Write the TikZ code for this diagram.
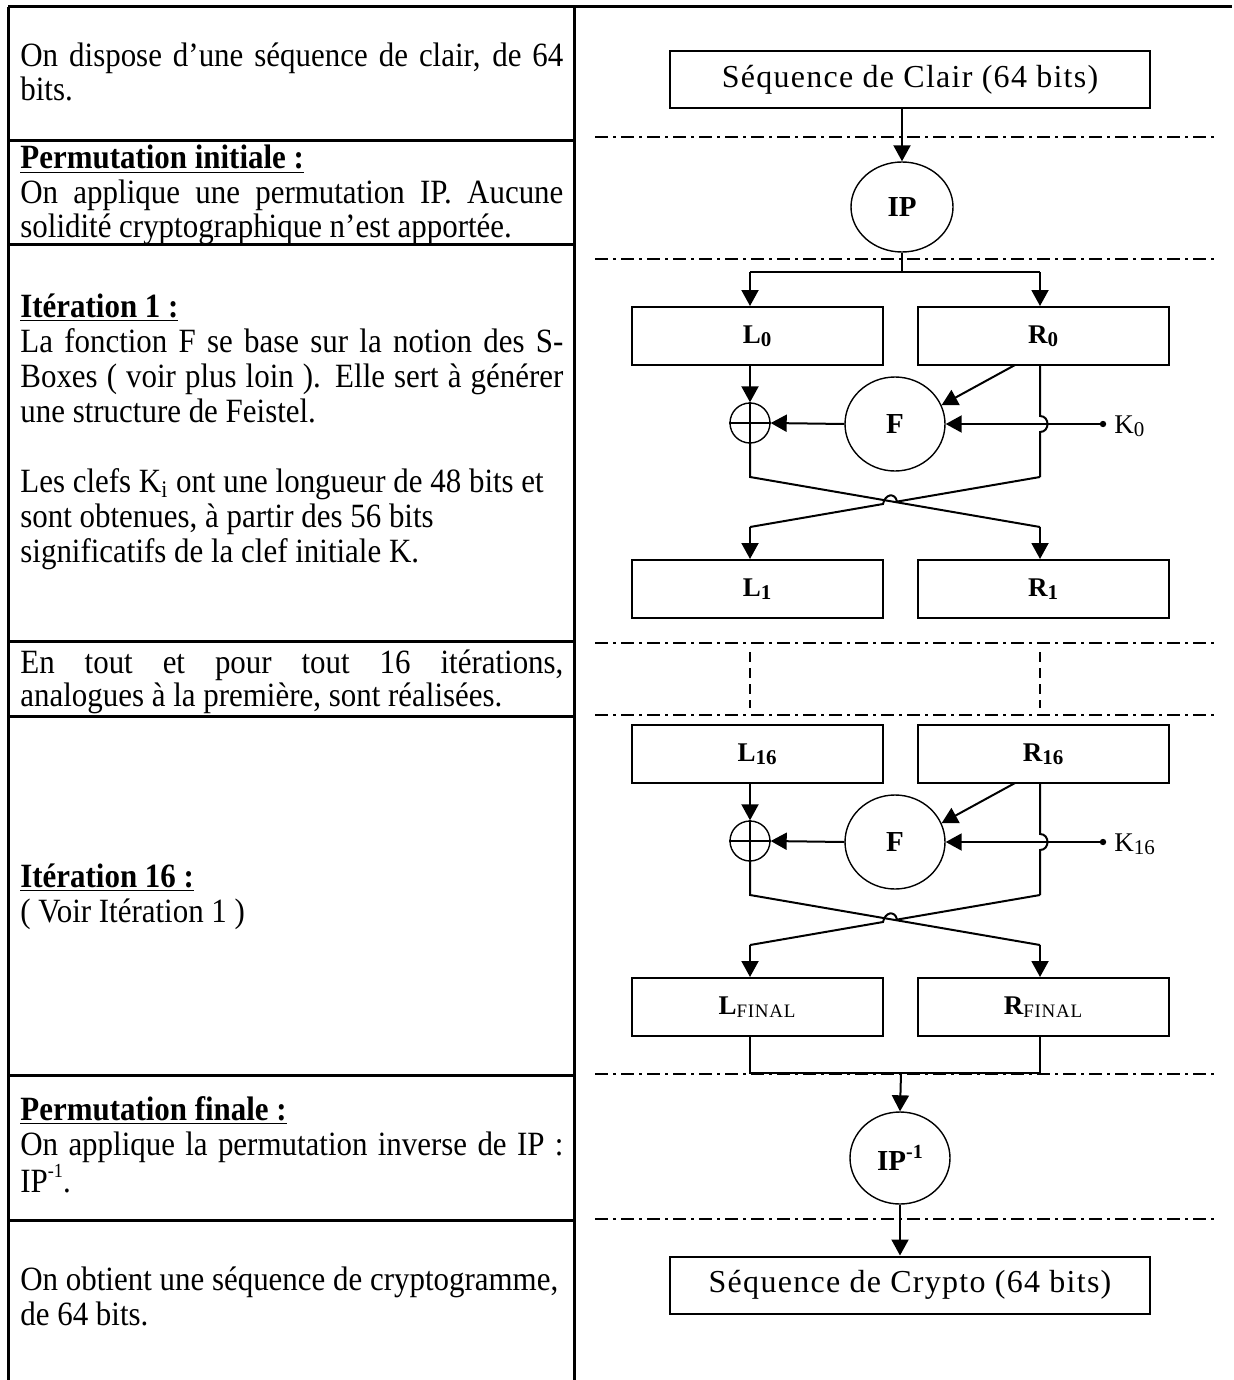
\documentclass[tikz,border=0pt]{standalone}
\usepackage{fontspec}
\setmainfont{Liberation Serif}[FakeStretch=0.91]
\newfontfamily\diafont[LetterSpace=4]{Liberation Serif}
\newfontfamily\labfont{Liberation Serif}
\usetikzlibrary{arrows.meta,shapes.geometric}
\newcommand{\jl}[1]{\makebox[271.5pt][s]{#1}}
\newcommand{\lsub}[1]{\raisebox{-0.28ex}{\fontsize{10.5}{11}\selectfont #1}}
\newcommand{\lsup}[1]{\raisebox{0.9ex}{\fontsize{10}{10}\selectfont #1}}
\tikzset{
  rule/.style={line width=1.5pt},
  sepline/.style={line width=0.9pt, dash pattern=on 6.5pt off 2.5pt on 1.5pt off 2.5pt},
  wire/.style={line width=1pt},
  arr/.style={wire, -{Triangle[length=8pt,width=8.5pt]}},
  blk/.style={draw, line width=1pt, minimum width=125.5pt, minimum height=29pt, inner sep=0pt, font=\labfont\bfseries\fontsize{13.5}{15}\selectfont},
  seqbox/.style={draw, line width=1pt, minimum width=240pt, minimum height=28.5pt, inner sep=0pt, font=\diafont\fontsize{16}{18}\selectfont},
  ring/.style={draw, ellipse, line width=0.7pt, inner sep=0pt, font=\labfont\bfseries\fontsize{14.5}{16}\selectfont},
  txt/.style={anchor=base west, inner sep=0pt, font=\fontsize{17}{19}\selectfont},
  klab/.style={anchor=west, inner sep=0pt, font=\labfont\fontsize{13.5}{15}\selectfont},
}
\begin{document}
\begin{tikzpicture}[x=0.5pt,y=-0.5pt]
\useasboundingbox (0,0) rectangle (1234,1380);
% table rules
\draw[rule] (8,7) -- (1232,7);
\draw[rule] (8,7) -- (8,1380);
\draw[rule] (574,7) -- (574,1380);
\foreach \y in {141,245,641,716,1075,1220} \draw[rule] (8,\y) -- (574,\y);
% left column text
\node[txt] (t1) at (20,67) {\jl{On dispose d’une séquence de clair, de 64}};
\node[txt] (t2) at (20,101) {bits.};
\node[txt] (t3) at (20,169) {\textbf{\underline{Permutation initiale :}}};
\node[txt] (t4) at (20,204) {\jl{On applique une permutation IP. Aucune}};
\node[txt] (t5) at (20,237) {solidité cryptographique n’est apportée.};
\node[txt] (t6) at (20,317) {\textbf{\underline{Itération 1 :}}};
\node[txt] (t7) at (20,352) {\jl{La fonction F se base sur la notion des S-}};
\node[txt] (t8) at (20,387) {\jl{Boxes ( voir plus loin ). Elle sert à générer}};
\node[txt] (t9) at (20,422) {une structure de Feistel.};
\node[txt] (t10) at (20,492) {Les clefs K\textsubscript{i} ont une longueur de 48 bits et};
\node[txt] (t11) at (20,527) {sont obtenues, à partir des 56 bits};
\node[txt] (t12) at (20,562) {significatifs de la clef initiale K.};
\node[txt] (t13) at (20,673) {\jl{En tout et pour tout 16 itérations,}};
\node[txt] (t14) at (20,706) {analogues à la première, sont réalisées.};
\node[txt] (t15) at (20,887) {\textbf{\underline{Itération 16 :}}};
\node[txt] (t16) at (20,922) {( Voir Itération 1 )};
\node[txt] (t17) at (20,1120) {\textbf{\underline{Permutation finale :}}};
\node[txt] (t18) at (20,1155) {\jl{On applique la permutation inverse de IP :}};
\node[txt] (t19) at (20,1192) {IP\lsup{-1}.};
\node[txt] (t20) at (20,1290) {On obtient une séquence de cryptogramme,};
\node[txt] (t21) at (20,1325) {de 64 bits.};
% separators in right column
\foreach \y in {137,259,643,715,1074,1219} \draw[sepline] (595,\y) -- (1217,\y);
% top part
\node[seqbox] (clair) at (910,79.5) {Séquence de Clair (64 bits)};
\node[ring, minimum width=51pt, minimum height=45pt] (ip) at (902,207) {IP};
\coordinate (split) at (902,272);
\coordinate (splitL) at (750,272);
\coordinate (splitR) at (1040,272);
\draw[arr] (clair.south -| ip.north) -- (ip.north);
\draw[wire] (ip.south) -- (split);
\draw[wire] (splitL) -- (splitR);
% rounds
\foreach \d/\s/\la/\ra/\lb/\rb/\k in {
  0/a/{L\lsub{0}}/{R\lsub{0}}/{L\lsub{1}}/{R\lsub{1}}/0,
  418/b/{L\lsub{16}}/{R\lsub{16}}/{L\lsub{\mdseries\diafont\fontsize{9.5}{10}\selectfont FINAL}}/{R\lsub{\mdseries\diafont\fontsize{9.5}{10}\selectfont FINAL}}/16}{
  \node[blk] (Lt\s) at (757,336+\d) {\la};
  \node[blk] (Rt\s) at (1043,336+\d) {\ra};
  \node[blk] (Lb\s) at (757,589+\d) {\lb};
  \node[blk] (Rb\s) at (1043,589+\d) {\rb};
  \node[ring, minimum size=20pt] (x\s) at (750,423+\d) {};
  \draw[line width=0.7pt] (x\s.north) -- (x\s.south) (x\s.west) -- (x\s.east);
  \node[ring, minimum width=50pt, minimum height=47pt] (f\s) at (895,424+\d) {F};
  \coordinate (k\s) at (1103,424+\d);
  \fill (k\s) circle (1.6pt);
  \node[klab] (kl\s) at (1114,426+\d) {K\lsub{\k}};
  \coordinate (rd\s) at (1015,365+\d);
  \coordinate (rw\s) at (1040,365+\d);
  \coordinate (lb\s) at (750,477+\d);
  \coordinate (rb\s) at (1040,477+\d);
  \coordinate (lc\s) at (750,527+\d);
  \coordinate (rc\s) at (1040,527+\d);
  \draw[arr] (Lt\s.south -| x\s.north) -- (x\s.north);
  \draw[arr] (f\s.west) -- (x\s.east);
  \draw[arr] (rd\s) -- (f\s.22);
  \draw[arr] (k\s) -- (f\s.east);
  \draw[wire] (rw\s) -- (1040,416+\d) .. controls (1050,416+\d) and (1050,432+\d) .. (1040,432+\d) -- (rb\s);
  \draw[wire] (x\s.south) -- (lb\s) -- (rc\s);
  \draw[wire] (rb\s) -- (897,501.6+\d) .. controls (895,492+\d) and (885,494+\d) .. (883,504+\d) -- (lc\s);
  \draw[arr] (rc\s) -- (rc\s |- Rb\s.north);
  \draw[arr] (lc\s) -- (lc\s |- Lb\s.north);
}
\draw[arr] (splitL) -- (splitL |- Lta.north);
\draw[arr] (splitR) -- (splitR |- Rta.north);
% dashed continuation
\coordinate (dl1) at (750,652); \coordinate (dl2) at (750,708);
\coordinate (dr1) at (1040,652); \coordinate (dr2) at (1040,708);
\draw[line width=0.9pt, dash pattern=on 5pt off 3pt] (dl1) -- (dl2);
\draw[line width=0.9pt, dash pattern=on 5pt off 3pt] (dr1) -- (dr2);
% final part
\coordinate (jl) at (750,1073);
\coordinate (jr) at (1040,1073);
\coordinate (jm) at (901,1073);
\draw[wire] (Lbb.south -| jl) -- (jl) -- (jr) -- (Rbb.south -| jr);
\node[ring, minimum width=50pt, minimum height=46pt] (ipinv) at (900,1158) {IP\lsup{-1}};
\draw[arr] (jm) -- (ipinv.north);
\node[seqbox] (crypto) at (910,1285) {Séquence de Crypto (64 bits)};
\draw[arr] (ipinv.south) -- (ipinv.south |- crypto.north);
\end{tikzpicture}
\end{document}
